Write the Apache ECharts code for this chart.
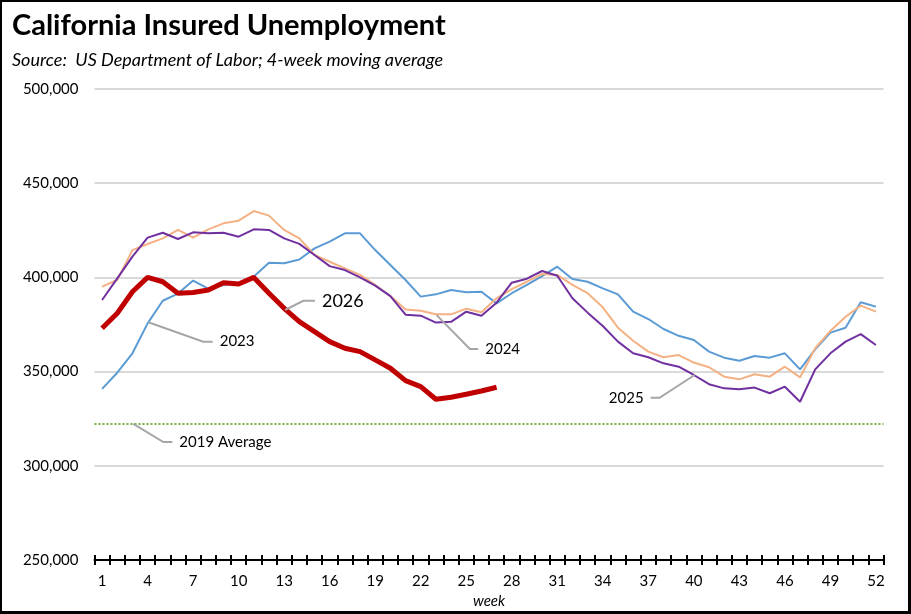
<!DOCTYPE html>
<html>
<head>
<meta charset="utf-8">
<script src="https://cdn.jsdelivr.net/npm/echarts@6/dist/echarts.min.js"></script>
<style>
  html, body { margin: 0; padding: 0; background: #fff; }
  #chart { position: absolute; left: 0; top: 0; width: 911px; height: 614px; }
  #frame { position: absolute; left: 0; top: 0; width: 911px; height: 614px; box-sizing: border-box;
           border-style: solid; border-color: #000; border-width: 2px 3px 3px 2px; pointer-events: none; }
</style>
</head>
<body>
<div id="chart"></div>
<div id="frame"></div>
<script>
const weeks = ['1','2','3','4','5','6','7','8','9','10','11','12','13','14','15','16','17','18','19','20',
  '21','22','23','24','25','26','27','28','29','30','31','32','33','34','35','36','37','38','39','40',
  '41','42','43','44','45','46','47','48','49','50','51','52'];

const y2023 = [340800,349400,359700,375600,387600,391400,398300,394000,396000,397000,400500,407800,407500,409500,
  415400,419000,423400,423400,414500,406600,398600,389800,391000,393300,392100,392400,386200,391600,396000,400700,
  405700,399200,397700,394200,391000,381800,377900,372600,369000,366800,360600,357400,355800,358300,357400,359700,
  351200,361800,370700,373300,386800,384500];

const y2024 = [395100,398600,414500,417700,420700,425200,421100,425500,428700,430100,435200,432800,425200,420700,
  411900,408300,404800,401300,396000,390100,383000,382300,380400,380400,383400,381500,388900,393800,397700,401800,
  401300,396000,391600,384100,373300,366400,360600,357600,358800,354800,352300,347300,345900,348600,347300,352600,
  346900,362400,371600,379100,385000,381800];

const y2025 = [388000,399500,411000,421100,423700,420400,423900,423400,423700,421600,425500,425200,420700,417800,
  411900,406000,403900,400000,395600,390100,380200,379700,376000,376400,381800,379600,386600,397200,399300,403400,
  400900,388900,381300,374200,365900,359700,357600,354400,352600,348200,343300,341100,340600,341500,338500,342000,
  334000,351200,359700,365900,369900,364100];

const y2026 = [373000,381000,392400,400000,397700,391600,392000,393300,397200,396500,400000,391600,383600,376500,
  371200,365900,362400,360600,356200,351800,345200,342000,335300,336400,338000,339700,341700];

const avg2019 = 322200;

const yTicks = { min: 250000, max: 500000, step: 50000 };

// annotation leader lines: points given as [week, value]
const notes = [
  { text: '2023', pts: [[4.05, 376200], [7.67, 365900], [8.29, 365900]], side: 'right', size: 15 },
  { text: '2026', pts: [[13.06, 382700], [14.26, 387600], [15.03, 387600]], side: 'right', size: 18 },
  { text: '2024', pts: [[23.05, 380000], [25.24, 362000], [25.79, 362000]], side: 'right', size: 15 },
  { text: '2025', pts: [[40.05, 348200], [37.74, 336100], [37.15, 336100]], side: 'left', size: 15 },
  { text: '2019 Average', pts: [[3.06, 322200], [5.04, 312600], [5.63, 312600]], side: 'right', size: 15 }
];

const FONT = 'Lato, "Open Sans", sans-serif';
const chart = echarts.init(document.getElementById('chart'), null, { renderer: 'canvas' });

const xBase = {
  type: 'category', data: weeks, boundaryGap: true, gridIndex: 0, position: 'bottom'
};

chart.setOption({
  animation: false,
  backgroundColor: '#fff',
  title: [
    { text: 'California Insured Unemployment', left: 7, top: 6,
      textStyle: { fontFamily: FONT, fontWeight: 'bold', fontSize: 29, color: '#000' } },
    { text: 'Source:  US Department of Labor; 4-week moving average', left: 7, top: 46,
      textStyle: { fontFamily: FONT, fontStyle: 'italic', fontWeight: 'normal', fontSize: 18, color: '#000' } }
  ],
  grid: { left: 94.5, right: 27.5, top: 89, bottom: 54, containLabel: false, outerBoundsMode: 'none' },
  xAxis: [
    Object.assign({}, xBase, {
      name: 'week', nameLocation: 'middle', nameGap: 33,
      nameTextStyle: { fontFamily: FONT, fontStyle: 'italic', fontSize: 15, color: '#000' },
      axisLine: { show: true, lineStyle: { color: '#000', width: 2 } },
      axisTick: { show: true, interval: 0, inside: false, length: 5, lineStyle: { color: '#000', width: 2 } },
      axisLabel: { interval: 2, margin: 14, fontFamily: FONT, fontSize: 15, color: '#000' },
      splitLine: { show: false }
    }),
    Object.assign({}, xBase, {
      axisLine: { show: false },
      axisTick: { show: true, interval: 0, inside: true, length: 5, lineStyle: { color: '#000', width: 2 } },
      axisLabel: { show: false },
      splitLine: { show: false }
    })
  ],
  yAxis: {
    type: 'value', min: yTicks.min, max: yTicks.max, interval: yTicks.step,
    axisLine: { show: false }, axisTick: { show: false },
    axisLabel: { margin: 16, fontFamily: FONT, fontSize: 15, color: '#000',
      formatter: v => v.toLocaleString('en-US') },
    splitLine: { lineStyle: { color: '#d9d9d9', width: 2 } }
  },
  series: [
    { name: '2023', type: 'line', data: y2023, symbol: 'none', lineStyle: { color: '#5b9bd5', width: 2 }, z: 2 },
    { name: '2024', type: 'line', data: y2024, symbol: 'none', lineStyle: { color: '#f4b183', width: 2 }, z: 3 },
    { name: '2025', type: 'line', data: y2025, symbol: 'none', lineStyle: { color: '#7030a0', width: 2 }, z: 4,
      markLine: { silent: true, symbol: 'none', label: { show: false },
        lineStyle: { color: '#70ad47', width: 2, type: [2, 2] },
        data: [{ yAxis: avg2019 }] } },
    { name: '2026', type: 'line', data: y2026, symbol: 'none', lineStyle: { color: '#c00000', width: 5 }, z: 5 }
  ]
});

function toPx(week, val) {
  const idx = week - 1;
  const i0 = Math.max(0, Math.min(50, Math.floor(idx)));
  const f = idx - i0;
  const x0 = chart.convertToPixel({ xAxisIndex: 0 }, i0);
  const x1 = chart.convertToPixel({ xAxisIndex: 0 }, i0 + 1);
  const y = chart.convertToPixel({ yAxisIndex: 0 }, val);
  return [x0 + f * (x1 - x0), y];
}

const graphics = [];
notes.forEach(n => {
  const pts = n.pts.map(p => toPx(p[0], p[1]));
  graphics.push({ type: 'polyline', shape: { points: pts }, z: 10,
    style: { stroke: '#a6a6a6', lineWidth: 2, fill: null } });
  const end = pts[pts.length - 1];
  graphics.push({ type: 'text', z: 11,
    x: n.side === 'right' ? end[0] + 7 : end[0] - 7, y: end[1],
    style: { text: n.text, fill: '#000', font: n.size + 'px ' + FONT,
      textAlign: n.side === 'right' ? 'left' : 'right', textVerticalAlign: 'middle' } });
});
chart.setOption({ graphic: graphics });
</script>
</body>
</html>
